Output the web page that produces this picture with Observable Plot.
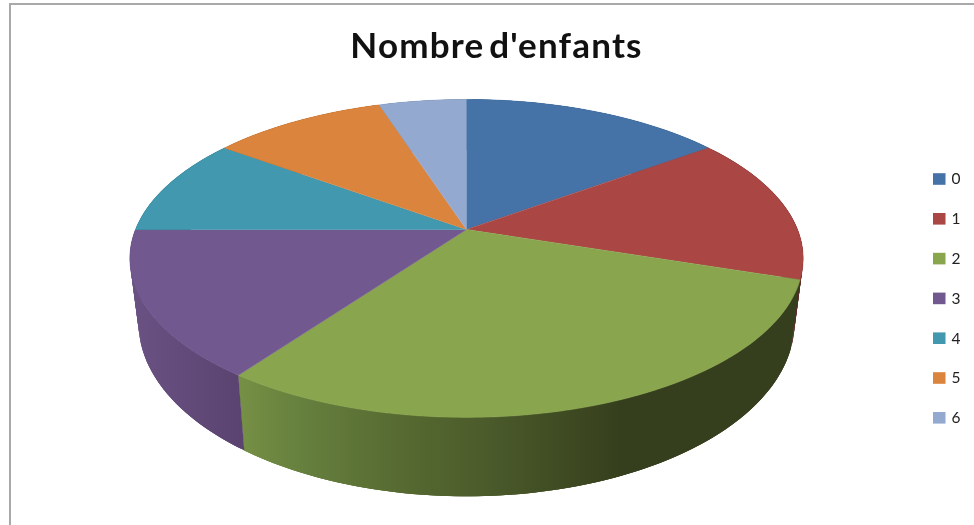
<!DOCTYPE html>
<html>
<head>
<meta charset="utf-8">
<script src="https://cdn.jsdelivr.net/npm/d3@7"></script>
<script src="https://cdn.jsdelivr.net/npm/@observablehq/plot@0.6"></script>
<style>
  html, body { margin: 0; padding: 0; background: #fff; overflow: hidden; }
  #wrap { position: relative; width: 974px; height: 525px; }
  #frame { position: absolute; left: 9px; top: 3px; right: -4px; bottom: -4px;
           border: 2px solid #a9a9a9; box-sizing: border-box; }
  #chart { position: absolute; left: 0; top: 0; }
  #chart svg { display: block; background: transparent; filter: blur(0.45px); }
  .chart-title text { letter-spacing: 1.2px; word-spacing: -5px; }
</style>
</head>
<body>
<div id="wrap"><div id="frame"></div><div id="chart"></div></div>
<script>
const titleText = "Nombre d'enfants";
const categories = ["0", "1", "2", "3", "4", "5", "6"];
const values = [3, 3, 6, 3, 2, 2, 1];
const colors = ["#4572A7", "#AA4643", "#89A54E", "#71588F", "#4198AF", "#DB843D", "#93A9CF"];
const wallGradients = [
  [[0, "#3a5a82"], [1, "#3a5a82"]],
  [[0, "#5a2a28"], [1, "#5a2a28"]],
  [[243, "#758f45"], [300, "#66803e"], [400, "#566a31"], [480, "#4c5c2b"], [620, "#363f1d"], [800, "#363f1d"]],
  [[129, "#6a5284"], [243, "#5a436f"]],
  [[0, "#2f6f80"], [1, "#2f6f80"]],
  [[0, "#a2622d"], [1, "#a2622d"]],
  [[0, "#6d7d99"], [1, "#6d7d99"]]
];

// Tilted-disc projection of the pie
const cx = 466, cyTop = 229, rx = 331, ry = 153.7, persp = 0.182;
const cyBottom = 291, shrinkX = 0.974, growY = 1.09;
function topPt(a) {
  const u = Math.sin(a), v = Math.cos(a), w = 1 + persp * v;
  return [cx + rx * u / w, cyTop - ry * v / w];
}
function bottomPt(a) {
  const [x, y] = topPt(a);
  return [cx + (x - cx) * shrinkX, cyBottom + (y - cyTop) * growY];
}
const arcs = d3.pie().sort(null).value(d => d)(values);
function angles(arc) {
  const n = Math.max(2, Math.ceil((arc.endAngle - arc.startAngle) / 0.01));
  return d3.range(n + 1).map(i => arc.startAngle + (arc.endAngle - arc.startAngle) * i / n);
}
const faces = arcs.flatMap((arc, i) => [
  {k: categories[i], p: [cx, cyTop]},
  ...angles(arc).map(a => ({k: categories[i], p: topPt(a)}))
]);
// Each wall is a strip of overlapping quads, so no seams show and the folds at the silhouette stay filled
const walls = arcs.map(arc => {
  const as = angles(arc), last = as.length - 1;
  return as.slice(0, -1).flatMap((a, j) => {
    const b = as[Math.min(j + 3, last)];
    return [topPt(a), topPt(b), bottomPt(b), bottomPt(a)].map(p => ({q: j, p}));
  });
});

const legendRows = categories.map((k, i) => ({k, y: 179 + i * 39.8}));

const defs = () => {
  const d = d3.create("svg:defs");
  wallGradients.forEach((stops, i) => {
    const g = d.append("linearGradient")
      .attr("id", "wall" + i)
      .attr("gradientUnits", "userSpaceOnUse")
      .attr("x1", stops[0][0]).attr("x2", stops[stops.length - 1][0])
      .attr("y1", 0).attr("y2", 0);
    const lo = stops[0][0], hi = stops[stops.length - 1][0];
    stops.forEach(([x, c]) => g.append("stop").attr("offset", (x - lo) / (hi - lo)).attr("stop-color", c));
  });
  return d.node();
};

const plot = Plot.plot({
  width: 974, height: 525,
  margin: 0,
  x: {axis: null, domain: [0, 974], range: [0, 974]},
  y: {axis: null, domain: [0, 525], range: [0, 525]},
  color: {domain: categories, range: colors},
  style: {background: "transparent"},
  marks: [
    defs,
    ...walls.map((w, i) => Plot.line(w, {
      x: d => d.p[0], y: d => d.p[1], z: "q",
      fill: `url(#wall${i})`, stroke: "none"
    })),
    Plot.line(faces, {
      x: d => d.p[0], y: d => d.p[1], z: "k",
      fill: "k", stroke: "k", strokeWidth: 0.5, curve: "linear"
    }),
    Plot.rect(legendRows, {
      x1: 933, x2: 945.5, y1: d => d.y - 5.8, y2: d => d.y + 5.8, fill: "k"
    }),
    Plot.text(legendRows, {
      x: 951, y: "y", text: "k", textAnchor: "start",
      fontFamily: "Lato", fontSize: 15.5, fill: "#222"
    }),
    Plot.text([titleText], {
      x: 496, y: 46, text: d => d, textAnchor: "middle", className: "chart-title",
      fontFamily: "Lato", fontWeight: 700, fontSize: 35, fill: "#111"
    })
  ]
});
document.getElementById("chart").appendChild(plot);
</script>
</body>
</html>
